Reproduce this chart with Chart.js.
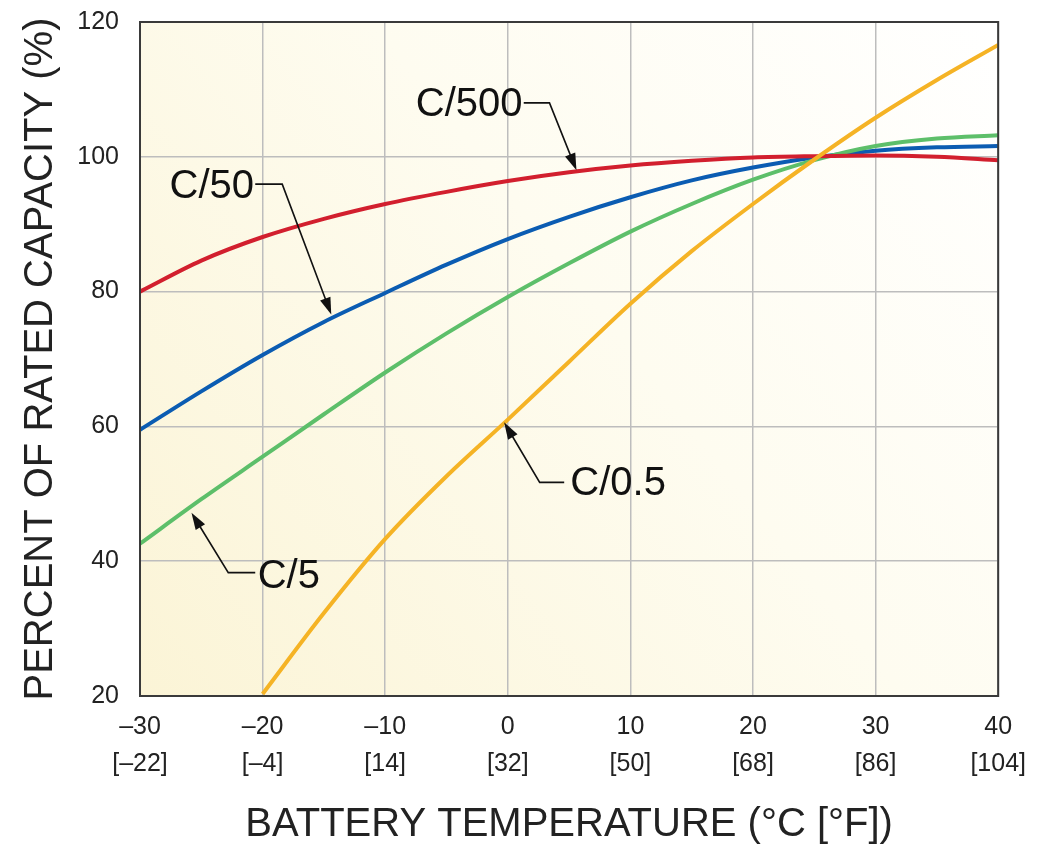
<!DOCTYPE html>
<html>
<head>
    <title>Battery capacity vs temperature</title>
    <script src="https://cdn.jsdelivr.net/npm/chart.js@4"></script>
    <style type="text/css">
        html, body {
            margin: 0;
            padding: 0;
            background-color: #ffffff;
        }
        #wrap {
            width: 1038px;
            height: 845px;
        }
    </style>
</head>
<body>
    <div id="wrap"><canvas id="chartCap"></canvas></div>
    <script>
        // temperature in degrees C, with matching Fahrenheit labels
        const temps = [-30, -25, -20, -15, -10, -5, 0, 5, 10, 15, 20, 25, 30, 35, 40];
        const fahrenheit = { "-30": "[–22]", "-20": "[–4]", "-10": "[14]", "0": "[32]", "10": "[50]", "20": "[68]", "30": "[86]", "40": "[104]" };

        // percent of rated capacity for each discharge rate
        const c500 = [80.0, 84.6, 88.1, 90.8, 93.0, 94.8, 96.4, 97.7, 98.7, 99.4, 99.9, 100.1, 100.2, 100.0, 99.5];
        const c50 = [59.5, 65.2, 70.6, 75.5, 79.8, 84.0, 87.8, 91.1, 94.0, 96.5, 98.4, 99.9, 100.9, 101.4, 101.6];
        const c5 = [42.6, 49.2, 55.5, 61.8, 68.0, 73.8, 79.2, 84.2, 88.9, 93.0, 96.6, 99.5, 101.6, 102.7, 103.2];
        const c05 = [null, null, 20.3, 32.3, 43.3, 52.6, 61.0, 69.6, 78.2, 86.0, 93.0, 99.6, 105.8, 111.4, 116.6];

        function toPoints(values) {
            return temps.map(function(t, i) { return { x: t, y: values[i] }; });
        }

        // callout labels: text anchor and leader path in data units, arrow at last point
        const callouts = [
            { text: "C/500", at: [1.2, 107.7], align: "right", path: [[1.3, 108.0], [3.4, 108.0], [5.6, 98.0]] },
            { text: "C/50", at: [-20.7, 95.5], align: "right", path: [[-20.6, 95.95], [-18.4, 95.95], [-14.4, 76.6]] },
            { text: "C/5", at: [-20.4, 37.6], align: "left", path: [[-20.6, 38.3], [-22.8, 38.3], [-25.8, 47.2]] },
            { text: "C/0.5", at: [5.1, 51.5], align: "left", path: [[4.6, 51.7], [2.6, 51.7], [-0.3, 60.6]] }
        ];

        const fontFamily = "'Liberation Sans', Arial, Helvetica, sans-serif";

        const backdrop = {
            id: "backdrop",
            beforeDraw: function(chart) {
                let ctx = chart.ctx;
                let a = chart.chartArea;
                ctx.save();
                ctx.fillStyle = "#ffffff";
                ctx.fillRect(0, 0, chart.width, chart.height);
                let g = ctx.createLinearGradient(a.left, a.bottom, a.right, a.top);
                g.addColorStop(0, "#fbf4d6");
                g.addColorStop(0.55, "#fefcf0");
                g.addColorStop(1, "#ffffff");
                ctx.fillStyle = g;
                ctx.fillRect(a.left, a.top, a.right - a.left, a.bottom - a.top);
                ctx.restore();
            },
            afterDraw: function(chart) {
                let ctx = chart.ctx;
                let a = chart.chartArea;
                let xs = chart.scales.x;
                let ys = chart.scales.y;
                ctx.save();
                ctx.strokeStyle = "#3a3a3a";
                ctx.lineWidth = 2;
                ctx.strokeRect(a.left, a.top, a.right - a.left, a.bottom - a.top);

                ctx.strokeStyle = "#111";
                ctx.fillStyle = "#111";
                ctx.lineWidth = 1.6;
                ctx.font = "40px " + fontFamily;
                ctx.textBaseline = "middle";
                callouts.forEach(function(c) {
                    let pts = c.path.map(function(p) { return [xs.getPixelForValue(p[0]), ys.getPixelForValue(p[1])]; });
                    let n = pts.length;
                    let tip = pts[n - 1];
                    let prev = pts[n - 2];
                    let ang = Math.atan2(tip[1] - prev[1], tip[0] - prev[0]);
                    let headLen = 17, headW = 5.5;
                    ctx.beginPath();
                    ctx.moveTo(pts[0][0], pts[0][1]);
                    for (let i = 1; i < n - 1; i++) ctx.lineTo(pts[i][0], pts[i][1]);
                    ctx.lineTo(tip[0] - Math.cos(ang) * (headLen - 2), tip[1] - Math.sin(ang) * (headLen - 2));
                    ctx.stroke();
                    ctx.beginPath();
                    ctx.moveTo(tip[0], tip[1]);
                    ctx.lineTo(tip[0] - Math.cos(ang) * headLen - Math.sin(ang) * headW, tip[1] - Math.sin(ang) * headLen + Math.cos(ang) * headW);
                    ctx.lineTo(tip[0] - Math.cos(ang) * headLen + Math.sin(ang) * headW, tip[1] - Math.sin(ang) * headLen - Math.cos(ang) * headW);
                    ctx.closePath();
                    ctx.fill();
                    ctx.textAlign = c.align;
                    ctx.fillText(c.text, xs.getPixelForValue(c.at[0]), ys.getPixelForValue(c.at[1]));
                });
                ctx.restore();
            }
        };

        function line(label, values, color) {
            return {
                label: label,
                data: toPoints(values),
                borderColor: color,
                backgroundColor: color,
                borderWidth: 4,
                pointRadius: 0,
                cubicInterpolationMode: "monotone",
                fill: false
            };
        }

        window.onload = function() {
            let ctx = document.getElementById("chartCap").getContext("2d");
            new Chart(ctx, {
                type: "line",
                data: {
                    datasets: [
                        line("C/0.5", c05, "#f5b325"),
                        line("C/500", c500, "#d21f2e"),
                        line("C/5", c5, "#5dbf6a"),
                        line("C/50", c50, "#0b5cb2")
                    ]
                },
                options: {
                    responsive: true,
                    maintainAspectRatio: false,
                    animation: false,
                    layout: { padding: { top: 22, right: 38, left: 0, bottom: 0 } },
                    plugins: {
                        legend: { display: false },
                        tooltip: { enabled: false }
                    },
                    scales: {
                        x: {
                            type: "linear",
                            min: -30,
                            max: 40,
                            afterFit: function(s) { s.height = 149; },
                            grid: { color: "#bdbdbd", lineWidth: 1.5, drawTicks: false },
                            border: { display: false },
                            ticks: {
                                stepSize: 10,
                                padding: 12,
                                color: "#222",
                                maxRotation: 0,
                                font: { family: fontFamily, size: 25, lineHeight: 1.5 },
                                callback: function(v) {
                                    let c = v < 0 ? "–" + Math.abs(v) : String(v);
                                    return [c, fahrenheit[String(v)]];
                                }
                            },
                            title: {
                                display: true,
                                text: "BATTERY TEMPERATURE (°C [°F])",
                                color: "#222",
                                padding: { top: 0, bottom: 0 },
                                font: { family: fontFamily, size: 40, lineHeight: 1.0 }
                            }
                        },
                        y: {
                            min: 20,
                            max: 120,
                            afterFit: function(s) {
                                s.width = 140;
                                s.paddingTop = 0;
                                s.paddingBottom = 0;
                            },
                            grid: { color: "#bdbdbd", lineWidth: 1.5, drawTicks: false },
                            border: { display: false },
                            ticks: {
                                stepSize: 20,
                                padding: 21,
                                color: "#222",
                                font: { family: fontFamily, size: 25 }
                            },
                            title: {
                                display: true,
                                text: "PERCENT OF RATED CAPACITY (%)",
                                color: "#222",
                                padding: { top: 17, bottom: 0 },
                                font: { family: fontFamily, size: 40, lineHeight: 1.2 }
                            }
                        }
                    }
                },
                plugins: [backdrop]
            });
        };
    </script>
</body>
</html>
